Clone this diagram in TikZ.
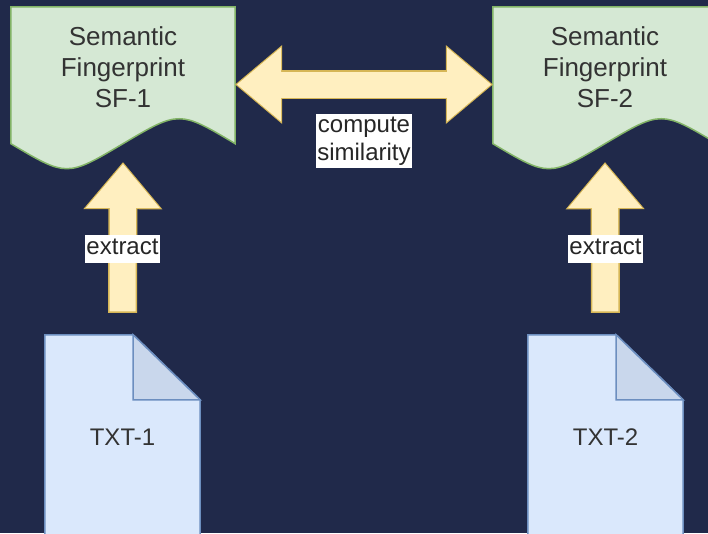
\documentclass[tikz,border=0pt]{standalone}
\usepackage{fontspec}
\setmainfont{Liberation Sans}
\usetikzlibrary{calc,arrows.meta}

\definecolor{navy}{HTML}{20294A}
\definecolor{docfill}{HTML}{D5E8D4}
\definecolor{docline}{HTML}{82B366}
\definecolor{notefill}{HTML}{DAE8FC}
\definecolor{noteline}{HTML}{6C8EBF}
\definecolor{foldfill}{HTML}{C9D7EC}
\definecolor{arrowfill}{HTML}{FFEFC0}
\definecolor{arrowline}{HTML}{D6B656}

\tikzset{
  docbox/.style={minimum width=224pt, minimum height=155pt, inner sep=0pt},
  notebox/.style={minimum width=155pt, minimum height=205pt, inner sep=0pt},
  docshape/.style={fill=docfill, draw=docline, line width=1.5pt},
  noteshape/.style={fill=notefill, draw=noteline, line width=1.5pt},
  doctext/.style={align=center, text=black!80, font=\fontsize{26}{31}\selectfont},
  notetext/.style={text=black!80, font=\fontsize{24}{29}\selectfont},
  lbl/.style={fill=white, align=center, inner xsep=1pt, inner ysep=3pt, text=black!85, font=\fontsize{24}{28}\selectfont},
  fatout/.style={draw=arrowline, line width=29pt, >={Triangle[width=79pt, length=47pt, line width=0pt]}},
  fatin/.style={draw=arrowfill, line width=26pt, >={Triangle[width=74pt, length=44pt, line width=0pt]}}
}

\begin{document}
\begin{tikzpicture}[x=1pt, y=-1pt]
  \useasboundingbox (0,0) rectangle (708,533);
  \fill[navy] (0,0) rectangle (708,533);
  \clip (0,0) rectangle (708,533);

  % boxes
  \node[docbox] (sf1) at (123,84.5) {};
  \node[docbox] (sf2) at (605,84.5) {};
  \node[notebox] (txt1) at (122.5,437.5) {};
  \node[notebox] (txt2) at (605.5,437.5) {};

  % shapes
  \foreach \d in {sf1,sf2}
    \draw[docshape] (\d.north west) -- (\d.north east) -- ($(\d.south east)+(0,-18.5)$)
      .. controls ($(\d.south east)+(-56,-51.8)$) .. ($(\d.south)+(0,-18.5)$)
      .. controls ($(\d.south west)+(56,14.8)$) .. ($(\d.south west)+(0,-18.5)$) -- cycle;
  \foreach \n in {txt1,txt2} {
    \draw[noteshape] (\n.south west) -- (\n.north west) -- ($(\n.north east)+(-67,0)$)
      -- ($(\n.north east)+(0,65)$) -- (\n.south east) -- cycle;
    \draw[noteshape, fill=foldfill] ($(\n.north east)+(-67,0)$) -- ($(\n.north east)+(-67,65)$)
      -- ($(\n.north east)+(0,65)$) -- cycle;
  }

  % texts
  \node[doctext] (sf1lbl) at ($(sf1.north)+(0,60)$) {Semantic\\Fingerprint\\SF-1};
  \node[doctext] (sf2lbl) at ($(sf2.north)+(0,60)$) {Semantic\\Fingerprint\\SF-2};
  \node[notetext] (txt1lbl) at (txt1) {TXT-1};
  \node[notetext] (txt2lbl) at (txt2) {TXT-2};

  % arrows
  \draw[fatout, ->, shorten <=22pt] (txt1.north) -- (sf1.south);
  \draw[fatin, ->, shorten <=23.5pt, shorten >=1.8pt] (txt1.north) -- (sf1.south);
  \draw[fatout, ->, shorten <=22pt] (txt2.north) -- (sf2.south);
  \draw[fatin, ->, shorten <=23.5pt, shorten >=1.8pt] (txt2.north) -- (sf2.south);
  \draw[fatout, <->] (sf1.east) -- (sf2.west);
  \draw[fatin, <->, shorten <=1.8pt, shorten >=1.8pt] (sf1.east) -- (sf2.west);

  \node[lbl] (simlbl) at ($(sf1.east)!0.5!(sf2.west)+(0,56.5)$) {compute\\similarity};
  \node[lbl, text height=17pt, text depth=5pt] (ext1) at ($(txt1.north)+(0,-86)$) {extract};
  \node[lbl, text height=17pt, text depth=5pt] (ext2) at ($(txt2.north)+(0,-86)$) {extract};
\end{tikzpicture}
\end{document}
